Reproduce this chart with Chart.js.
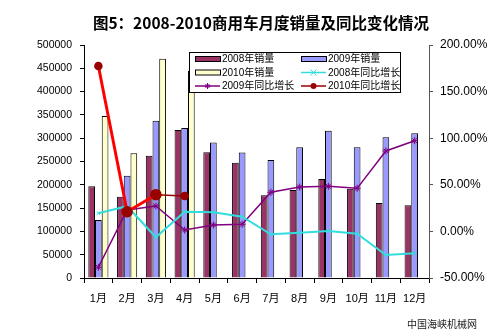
<!DOCTYPE html>
<html>
<head>
<meta charset="utf-8">
<script src="https://cdn.jsdelivr.net/npm/chart.js@4/dist/chart.umd.min.js"></script>
<style>
  body { margin: 0; background: #fff; }
  #grafico { display: block; }
</style>
</head>
<body>
<canvas id="grafico" width="500" height="332"></canvas>
<script>
const months = ["1月", "2月", "3月", "4月", "5月", "6月", "7月", "8月", "9月", "10月", "11月", "12月"];

// sales (vehicles), left axis
const sales2008 = [197000, 174500, 262500, 317500, 270000, 247500, 177500, 189000, 212500, 191500, 161000, 156000];
const sales2009 = [124500, 219500, 337500, 322000, 291000, 269500, 253000, 280500, 316000, 280500, 302000, 310500];
const sales2010 = [347500, 267500, 470500, 445000, null, null, null, null, null, null, null, null];

// year-on-year growth (%), right axis
const growth2008 = [19.4, 27.0, -6.3, 21.0, 20.5, 15.8, -3.1, -1.4, 0.4, -2.4, -25.3, -23.5];
const growth2009 = [-38.5, 23.0, 27.3, 1.5, 6.9, 7.6, 42.0, 47.6, 48.4, 46.2, 86.3, 97.3];
const growth2010 = [177.5, 21.1, 39.4, 38.0, null, null, null, null, null, null, null, null];

const leftTicks = { min: 0, max: 500000, step: 50000 };
const rightTicks = { min: -50, max: 200, step: 50 };

const fontFamily = "'Liberation Sans', 'Noto Sans CJK SC', sans-serif";
const cjkFamily = "'Noto Sans CJK SC', 'Liberation Sans', sans-serif";

function drawMarker(ctx, style, x, y, r, color) {
  ctx.save();
  ctx.strokeStyle = color;
  ctx.fillStyle = color;
  ctx.lineWidth = 1;
  ctx.beginPath();
  if (style === "circle") {
    ctx.arc(x, y, r, 0, Math.PI * 2);
    ctx.fill();
  } else if (style === "star") {
    ctx.moveTo(x - r, y); ctx.lineTo(x + r, y);
    ctx.moveTo(x, y - r); ctx.lineTo(x, y + r);
    ctx.moveTo(x - r * 0.7, y - r * 0.7); ctx.lineTo(x + r * 0.7, y + r * 0.7);
    ctx.moveTo(x - r * 0.7, y + r * 0.7); ctx.lineTo(x + r * 0.7, y - r * 0.7);
    ctx.stroke();
  } else {
    ctx.moveTo(x - r, y - r); ctx.lineTo(x + r, y + r);
    ctx.moveTo(x - r, y + r); ctx.lineTo(x + r, y - r);
    ctx.stroke();
  }
  ctx.restore();
}

const decorPlugin = {
  id: "decor",
  beforeDraw(chart) {
    let ctx = chart.ctx;
    ctx.save();
    ctx.fillStyle = "#fff";
    ctx.fillRect(0, 0, chart.width, chart.height);
    ctx.restore();
  },
  afterDraw(chart) {
    let ctx = chart.ctx;
    ctx.save();

    // title
    ctx.fillStyle = "#000";
    ctx.font = "bold 15.5px " + cjkFamily;
    ctx.textAlign = "center";
    ctx.textBaseline = "middle";
    ctx.fillText("图5：2008-2010商用车月度销量及同比变化情况", 261, 23);

    // source
    ctx.font = "10px " + cjkFamily;
    ctx.fillStyle = "#222";
    ctx.textAlign = "left";
    ctx.fillText("中国海峡机械网", 407, 324.5);

    // legend box
    let lx = 189, ly = 52, lw = 211, lh = 40;
    ctx.fillStyle = "#fff";
    ctx.fillRect(lx, ly, lw, lh);
    ctx.strokeStyle = "#000";
    ctx.lineWidth = 1;
    ctx.strokeRect(lx + 0.5, ly + 0.5, lw, lh);

    let cols = [195, 301];
    let rows = [59, 72.5, 86];
    ctx.font = "10px " + fontFamily;
    ctx.textBaseline = "middle";
    chart.data.datasets.forEach((ds, i) => {
      let x = cols[i % 2];
      let y = rows[Math.floor(i / 2)];
      if (ds.type === "bar") {
        ctx.fillStyle = ds.backgroundColor;
        ctx.fillRect(x, y - 2.5, 25, 5);
        ctx.strokeStyle = "#000";
        ctx.strokeRect(x + 0.5, y - 2.5, 25, 5);
      } else {
        ctx.strokeStyle = ds.legendColor;
        ctx.lineWidth = 1.5;
        ctx.beginPath();
        ctx.moveTo(x, y);
        ctx.lineTo(x + 25, y);
        ctx.stroke();
        drawMarker(ctx, ds.pointStyle, x + 12.5, y, 3, ds.legendColor);
      }
      ctx.fillStyle = "#000";
      ctx.fillText(ds.label, x + 27, y + 0.5);
    });

    ctx.restore();
  },
};

new Chart(document.getElementById("grafico"), {
  data: {
    labels: months,
    datasets: [
      {
        type: "bar",
        label: "2008年销量",
        data: sales2008,
        backgroundColor: "#993366",
        borderColor: "#000",
        borderWidth: 1,
        yAxisID: "y",
        order: 1,
      },
      {
        type: "bar",
        label: "2009年销量",
        data: sales2009,
        backgroundColor: "#9999FF",
        borderColor: "#000",
        borderWidth: 1,
        yAxisID: "y",
        order: 1,
      },
      {
        type: "bar",
        label: "2010年销量",
        data: sales2010,
        backgroundColor: "#FFFFCC",
        borderColor: "#000",
        borderWidth: 1,
        yAxisID: "y",
        order: 1,
      },
      {
        type: "line",
        label: "2008年同比增长",
        data: growth2008,
        borderColor: "#33DDDD",
        legendColor: "#33DDDD",
        borderWidth: 2,
        pointStyle: "crossRot",
        pointRadius: 2.5,
        pointBorderColor: "#33DDDD",
        pointBorderWidth: 1,
        tension: 0,
        yAxisID: "y1",
        order: 0,
      },
      {
        type: "line",
        label: "2009年同比增长",
        data: growth2009,
        borderColor: "#800080",
        legendColor: "#800080",
        borderWidth: 1.5,
        pointStyle: "star",
        pointRadius: 3.5,
        pointBorderColor: "#800080",
        pointBorderWidth: 1,
        tension: 0,
        yAxisID: "y1",
        order: 0,
      },
      {
        type: "line",
        label: "2010年同比增长",
        data: growth2010,
        borderColor: "#990000",
        legendColor: "#990000",
        borderWidth: 1.5,
        segment: {
          borderColor: (c) => (c.p0DataIndex < 2 ? "#FF0000" : "#990000"),
          borderWidth: (c) => (c.p0DataIndex < 2 ? 3 : 1.5),
        },
        pointStyle: "circle",
        pointRadius: [3.5, 5, 5, 3.5],
        pointBackgroundColor: "#990000",
        pointBorderColor: "#990000",
        tension: 0,
        spanGaps: false,
        yAxisID: "y1",
        order: -1,
      },
    ],
  },
  options: {
    responsive: false,
    devicePixelRatio: 1,
    animation: false,
    datasets: {
      bar: { categoryPercentage: 0.7, barPercentage: 1.0 },
    },
    layout: { padding: { top: 45, left: 0, right: 0, bottom: 0 } },
    plugins: {
      legend: { display: false },
      title: { display: false },
      tooltip: { enabled: false },
    },
    scales: {
      x: {
        offset: true,
        grid: {
          display: true,
          offset: true,
          drawOnChartArea: false,
          drawTicks: true,
          tickLength: 5,
          color: "#000",
        },
        border: { display: true, color: "#000", width: 1 },
        ticks: { color: "#000", font: { size: 11, family: fontFamily }, padding: 9, maxRotation: 0, autoSkip: false },
        afterFit: (scale) => { scale.height = 54; },
      },
      y: {
        position: "left",
        min: leftTicks.min,
        max: leftTicks.max,
        ticks: {
          stepSize: leftTicks.step,
          color: "#000",
          font: { size: 10.5, family: fontFamily },
          padding: 8,
          callback: (v) => String(v),
        },
        grid: { drawOnChartArea: false, tickLength: 4, color: "#000" },
        border: { display: true, color: "#000", width: 1 },
        afterFit: (scale) => { scale.width = 84; },
      },
      y1: {
        position: "right",
        min: rightTicks.min,
        max: rightTicks.max,
        ticks: {
          stepSize: rightTicks.step,
          color: "#000",
          font: { size: 12, family: fontFamily },
          padding: 7,
          callback: (v) => v.toFixed(2) + "%",
        },
        grid: { drawOnChartArea: false, tickLength: 4, color: "#555" },
        border: { display: true, color: "#555", width: 1 },
        afterFit: (scale) => { scale.width = 71; },
      },
    },
  },
  plugins: [decorPlugin],
});
</script>
</body>
</html>
